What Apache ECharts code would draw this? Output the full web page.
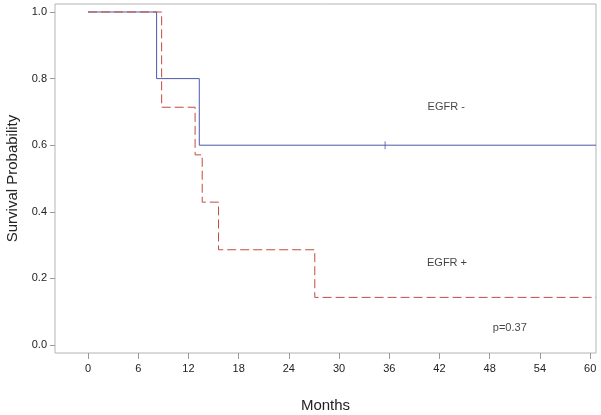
<!DOCTYPE html>
<html>
<head>
<meta charset="utf-8">
<script src="https://cdn.jsdelivr.net/npm/echarts@6/dist/echarts.min.js"></script>
<style>
    html, body { margin: 0; padding: 0; background: #fff; }
    #chart { width: 601px; height: 415px; }
</style>
</head>
<body>
<div id="chart"></div>
<script>
// Kaplan-Meier steps: [month, survival after the event]
const egfrNeg = [[0, 1], [8.2, 0.8], [13.3, 0.6], [60.7, 0.6]];
const egfrPos = [[0, 1], [8.8, 0.714], [12.8, 0.571], [13.65, 0.429], [15.6, 0.286], [27.1, 0.143], [60.7, 0.143]];
const censorNeg = [[35.5, 0.6]];
const monthTicks = [0, 6, 12, 18, 24, 30, 36, 42, 48, 54, 60];
const probTicks = [0, 0.2, 0.4, 0.6, 0.8, 1.0];
const notes = [
    {text: 'EGFR -', at: [42.8, 0.714]},
    {text: 'EGFR +', at: [42.9, 0.247]},
    {text: 'p=0.37', at: [50.4, 0.051]}
];

const font = 'Liberation Sans, Arial, sans-serif';
const chart = echarts.init(document.getElementById('chart'));

const option = {
    animation: false,
    grid: {
        left: 55, right: 5, top: 4, bottom: 62,
        outerBoundsMode: 'none',
        containLabel: false,
        show: true,
        borderColor: '#b4b4b4',
        borderWidth: 1
    },
    xAxis: {
        type: 'value',
        min: -3.94,
        max: 60.7,
        name: 'Months',
        nameLocation: 'middle',
        nameGap: 45,
        nameTextStyle: {fontFamily: font, fontSize: 15, color: '#222'},
        axisLine: {show: false, onZero: false},
        splitLine: {show: false},
        axisTick: {show: true, length: 6, lineStyle: {color: '#999'}, customValues: monthTicks},
        axisLabel: {fontFamily: font, fontSize: 11, color: '#222', margin: 10, customValues: monthTicks}
    },
    yAxis: {
        type: 'value',
        min: -0.024,
        max: 1.024,
        name: 'Survival Probability',
        nameLocation: 'middle',
        nameGap: 35,
        nameTextStyle: {fontFamily: font, fontSize: 15, color: '#222'},
        axisLine: {show: false, onZero: false},
        splitLine: {show: false},
        axisTick: {show: true, length: 5, lineStyle: {color: '#999'}, customValues: probTicks},
        axisLabel: {
            fontFamily: font, fontSize: 11, color: '#222', margin: 8,
            customValues: probTicks,
            formatter: function (v) { return v.toFixed(1); }
        }
    },
    series: [
        {
            name: 'EGFR -',
            type: 'line',
            step: 'end',
            data: egfrNeg,
            symbol: 'none',
            lineStyle: {color: '#4b5aa8', width: 1}
        },
        {
            name: 'censor',
            type: 'scatter',
            data: censorNeg,
            symbol: 'rect',
            symbolSize: [1, 8],
            itemStyle: {color: '#4b5aa8'}
        },
        {
            name: 'EGFR +',
            type: 'line',
            step: 'end',
            data: egfrPos,
            symbol: 'none',
            lineStyle: {color: '#c24b40', width: 1, type: [9, 4]}
        },
        {
            name: 'notes',
            type: 'scatter',
            data: notes.map(function (n) { return {value: n.at, name: n.text}; }),
            symbolSize: 0,
            silent: true,
            label: {
                show: true,
                position: 'inside',
                formatter: '{b}',
                fontFamily: font,
                fontSize: 11,
                color: '#111'
            }
        }
    ]
};

chart.setOption(option);

window.addEventListener('resize', chart.resize.bind(chart));
</script>
</body>
</html>
